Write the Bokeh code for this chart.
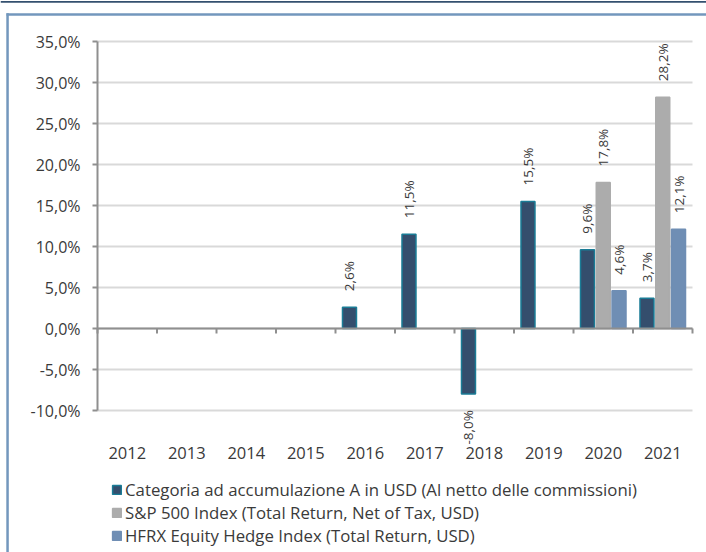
from bokeh.plotting import figure
from bokeh.models import ColumnDataSource, Range1d, Legend, LegendItem
from bokeh.transform import dodge
from bokeh.core.properties import value
from bokeh.embed import file_html
from bokeh.resources import INLINE
import math

years = ["2012", "2013", "2014", "2015", "2016", "2017", "2018", "2019", "2020", "2021"]
fund = [None, None, None, None, 2.6, 11.5, -8.0, 15.5, 9.6, 3.7]
sp500 = [None, None, None, None, None, None, None, None, 17.8, 28.2]
hfrx = [None, None, None, None, None, None, None, None, 4.6, 12.1]
series_names = ["Categoria ad accumulazione A in USD (Al netto delle commissioni)",
                "S&P 500 Index (Total Return, Net of Tax, USD)",
                "HFRX Equity Hedge Index (Total Return, USD)"]
y_ticks = [-10, -5, 0, 5, 10, 15, 20, 25, 30, 35]
y_tick_labels = ["-10,0%", "-5,0%", "0,0%", "5,0%", "10,0%", "15,0%", "20,0%", "25,0%", "30,0%", "35,0%"]

# ---- layout (canvas pixels) ----
W, H = 706, 552
PL, PR, PT, PB = 97, 692, 41, 410          # plotting area inside the canvas
FONT = "Open Sans"
TXT = "#3a3a3a"
AXIS = "#8f8f8f"
GRID = "#d9d9d9"
FRAME = "#7397bd"
NAVY = "#34506f"
colors = ["#344e6d", "#acacac", "#6f8eb4"]
lines = ["#1a7c96", "#acacac", "#6f8eb4"]
offsets = [-0.265, 0.0, 0.265]

n = len(years)
slots = [i + 0.5 for i in range(n)]          # category centres on a 0..n scale
bounds = list(range(n + 1))                  # category boundaries
ymin, ymax = min(y_ticks), max(y_ticks)
sx = (PR - PL) / n
sy = (PB - PT) / (ymax - ymin)
x_range = Range1d(-PL / sx, n + (W - PR) / sx)
y_range = Range1d(ymin - (H - PB) / sy, ymax + PT / sy)


def cx(px):  # canvas x pixel -> data x
    return (px - PL) / sx


def cy(py):  # canvas y pixel -> data y
    return ymax - (py - PT) / sy


def fmt(v):
    return "" if v is None else ("%.1f%%" % v).replace(".", ",")


def nanify(vals):
    return [float("nan") if v is None else v for v in vals]


p = figure(x_range=x_range, y_range=y_range, width=W, height=H,
           output_backend="svg", toolbar_location=None,
           x_axis_location=None, y_axis_location=None,
           min_border=0, min_border_left=0, min_border_right=0, min_border_top=0, min_border_bottom=0)
p.outline_line_color = None
p.background_fill_color = "white"
p.border_fill_color = "white"
p.xgrid.visible = False
p.ygrid.visible = False

# page decoration: navy rule at top, light-blue panel frame
p.quad(left=[cx(0)], right=[cx(W)], top=[cy(0.5)], bottom=[cy(2.2)], fill_color=NAVY, line_color=None)
p.quad(left=[cx(6)], right=[cx(W)], top=[cy(12.8)], bottom=[cy(15.2)], fill_color=FRAME, line_color=None)
p.quad(left=[cx(5.8)], right=[cx(8.3)], top=[cy(12.8)], bottom=[cy(H)], fill_color=FRAME, line_color=None)

# grid lines
p.segment(x0=[0] * len(y_ticks), x1=[n] * len(y_ticks), y0=y_ticks, y1=y_ticks,
          line_color=GRID, line_width=2)

renderers = []
for vals, col, lc, off in zip([fund, sp500, hfrx], colors, lines, offsets):
    src = ColumnDataSource(dict(
        slot=slots, top=nanify(vals),
        lab=[fmt(v) for v in vals],
        pos=[v if (v is not None and v >= 0) else float("nan") for v in vals],
        neg=[v if (v is not None and v < 0) else float("nan") for v in vals],
    ))
    r = p.vbar(x=dodge("slot", off), top="top", bottom=0, width=0.235,
               source=src, fill_color=col, line_color=lc, line_width=1.5)
    renderers.append(r)
    p.text(x=dodge("slot", off), y="pos", text="lab", source=src,
           angle=math.pi / 2, text_align="left", text_baseline="middle", y_offset=-16,
           text_font=value(FONT), text_font_size="13.5px", text_color=TXT)
    p.text(x=dodge("slot", off), y="neg", text="lab", source=src,
           angle=math.pi / 2, text_align="right", text_baseline="middle", y_offset=16,
           text_font=value(FONT), text_font_size="13.5px", text_color=TXT)

# y axis: line, ticks, labels
p.segment(x0=[0], x1=[0], y0=[ymin], y1=[ymax], line_color=AXIS, line_width=2)
p.ray(x=[0] * len(y_ticks), y=y_ticks, length=5, length_units="screen", angle=math.pi,
      line_color=AXIS, line_width=2)
p.text(x=[0] * len(y_ticks), y=y_ticks, text=y_tick_labels, x_offset=-17,
       text_align="right", text_baseline="middle",
       text_font=value(FONT), text_font_size="16px", text_color=TXT)

# zero line with ticks between categories
p.segment(x0=[0], x1=[n], y0=[0], y1=[0], line_color=AXIS, line_width=2)
p.ray(x=bounds, y=[0] * len(bounds), length=5, length_units="screen", angle=-math.pi / 2,
      line_color=AXIS, line_width=2)

# category labels
p.text(x=slots, y=[ymin] * n, text=years, y_offset=42,
       text_align="center", text_baseline="middle",
       text_font=value(FONT), text_font_size="16.5px", text_color=TXT)

legend = Legend(items=[LegendItem(label=nm, renderers=[r]) for nm, r in zip(series_names, renderers)],
                location=(111, 5), orientation="vertical",
                glyph_width=11, glyph_height=11, label_standoff=3,
                label_text_font=FONT, label_text_font_size="16.8px", label_text_color=TXT,
                label_height=23, spacing=0, padding=0, margin=0,
                border_line_color=None, background_fill_alpha=0)
p.add_layout(legend)

open("out.html", "w").write(file_html(p, INLINE))
